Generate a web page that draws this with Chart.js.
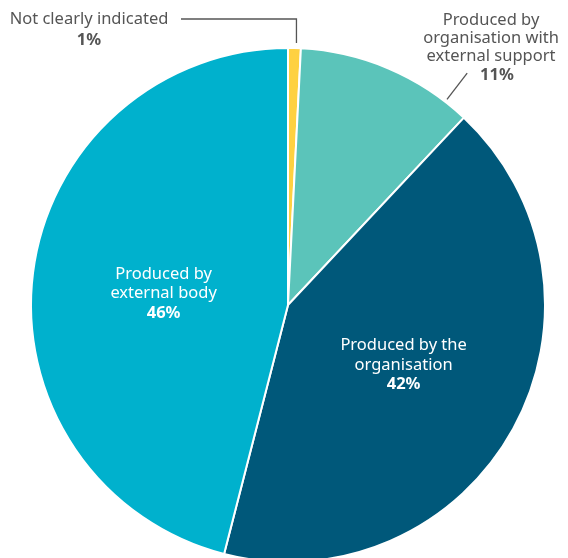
<!DOCTYPE html>
<html>
<head>
<meta charset="utf-8">
<script src="https://cdn.jsdelivr.net/npm/chart.js@4"></script>
<style>
  html, body { margin: 0; padding: 0; background: #fff; overflow: hidden; }
  #wrap { width: 568px; height: 558px; position: relative; }
</style>
</head>
<body>
<div id="wrap"><canvas id="pieChart"></canvas></div>
<script>
const categories = [
  "Not clearly indicated",
  "Produced by organisation with external support",
  "Produced by the organisation",
  "Produced by external body"
];
const shares = [0.8, 11.2, 42, 46];
const percentLabels = ["1%", "11%", "42%", "46%"];
const sliceColors = ["#FED141", "#5BC4BA", "#00587A", "#00B1CD"];

// label text split into lines
const labelLines = [
  ["Not clearly indicated"],
  ["Produced by", "organisation with", "external support"],
  ["Produced by the", "organisation"],
  ["Produced by", "external body"]
];

const FONT = '"Noto Sans", sans-serif';
const FS = "16.5px ";

const labelPlugin = {
  id: "pieLabels",
  afterDatasetsDraw(chart) {
    const ctx = chart.ctx;
    const arcs = chart.getDatasetMeta(0).data;
    const cx = arcs[0].x, cy = arcs[0].y, r = arcs[0].outerRadius;
    ctx.save();
    ctx.textAlign = "center";
    ctx.textBaseline = "middle";

    // inside labels (white)
    const inside = [{ i: 2, k: 0.5, dx: 3, dy: -2 }, { i: 3, k: 0.48, dx: -2, dy: 4 }];
    inside.forEach(o => {
      const a = arcs[o.i];
      const mid = (a.startAngle + a.endAngle) / 2;
      const x = cx + Math.cos(mid) * r * o.k + o.dx;
      const y = cy + Math.sin(mid) * r * o.k + o.dy;
      const lines = labelLines[o.i];
      const lh = 19.5;
      const top = y - (lines.length) * lh / 2;
      ctx.fillStyle = "#ffffff";
      ctx.font = FS + FONT;
      lines.forEach((t, j) => ctx.fillText(t, x, top + j * lh));
      ctx.font = "bold " + FS + FONT;
      ctx.fillText(percentLabels[o.i], x, top + lines.length * lh);
    });

    // outside labels (grey) with leader lines
    ctx.fillStyle = "#555555";
    ctx.strokeStyle = "#555555";
    ctx.lineWidth = 1.3;

    // 1% slice
    const a0 = arcs[0];
    const m0 = (a0.startAngle + a0.endAngle) / 2;
    const ex = cx + Math.cos(m0) * r;
    const ey = cy + Math.sin(m0) * r;
    ctx.beginPath();
    ctx.moveTo(ex + 2, ey - 5);
    ctx.lineTo(ex + 2, 19);
    ctx.lineTo(181, 19);
    ctx.stroke();
    ctx.font = FS + FONT;
    ctx.fillText(labelLines[0][0], 89, 19);
    ctx.font = "bold " + FS + FONT;
    ctx.fillText(percentLabels[0], 89, 40);

    // 11% slice
    const ang = -Math.PI / 2 + 37.7 * Math.PI / 180;
    ctx.beginPath();
    ctx.moveTo(cx + Math.cos(ang) * (r + 3), cy + Math.sin(ang) * (r + 3));
    ctx.lineTo(cx + Math.cos(ang) * (r + 36), cy + Math.sin(ang) * (r + 36));
    ctx.stroke();
    ctx.font = FS + FONT;
    labelLines[1].forEach((t, j) => ctx.fillText(t, 491, 20 + j * 18));
    ctx.font = "bold " + FS + FONT;
    ctx.fillText(percentLabels[1], 497, 75);

    ctx.restore();
  }
};

new Chart(document.getElementById("pieChart"), {
  type: "pie",
  data: {
    labels: categories,
    datasets: [{
      data: shares,
      backgroundColor: sliceColors,
      borderColor: "#ffffff",
      borderWidth: 2,
      clip: false
    }]
  },
  options: {
    responsive: true,
    maintainAspectRatio: false,
    animation: false,
    radius: 257,
    layout: { padding: { top: 52, bottom: 0, left: 8, right: 0 } },
    plugins: {
      legend: { display: false },
      tooltip: { enabled: false }
    }
  },
  plugins: [labelPlugin]
});
</script>
</body>
</html>
